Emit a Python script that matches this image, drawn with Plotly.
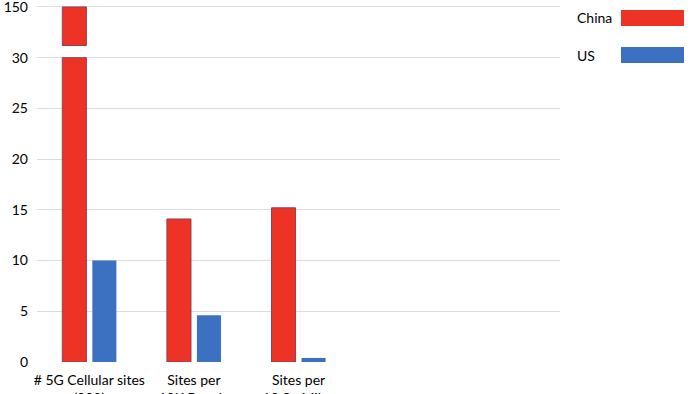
import plotly.graph_objects as go

# ---- data ----
categories = ["# 5G Cellular sites<br>(000)", "Sites per<br>10K People", "Sites per<br>10 Sq Miles"]
china = [150, 14.1, 15.2]
us = [10.0, 4.6, 0.4]
series_names = ["China", "US"]
tick_values = [0, 5, 10, 15, 20, 25, 30, 150]

# ---- broken axis helpers ----
BREAK_AT = 30          # axis linear up to here
TOP_DISPLAY = 35       # display position of the top tick (150)
UPPER_BASE = 31.2      # where the upper bar segment starts (display units)
RANGE_TOP = 35.59

def to_display(v):
    return v if v <= BREAK_AT else TOP_DISPLAY

RED = "#EC3326"
RED_EDGE = "#8E3E55"
BLUE = "#3B71C0"
FONT = "Lato, Open Sans, sans-serif"

x = list(range(len(categories)))
W = 0.23

fig = go.Figure()
fig.add_trace(go.Bar(x=x, y=[min(v, BREAK_AT) for v in china], width=W, offset=-0.258,
                     marker=dict(color=RED, line=dict(color=RED_EDGE, width=1)), name=series_names[0]))
upper = [to_display(v) - UPPER_BASE if v > BREAK_AT else None for v in china]
fig.add_trace(go.Bar(x=x, y=upper, base=UPPER_BASE, width=W, offset=-0.258,
                     marker=dict(color=RED, line=dict(color=RED_EDGE, width=1)), name=series_names[0]))
fig.add_trace(go.Bar(x=x, y=us, width=W, offset=0.029,
                     marker=dict(color=BLUE, line=dict(color=BLUE, width=0)), name=series_names[1]))

fig.update_layout(
    width=700, height=394,
    margin=dict(l=37, r=140, t=1, b=32, autoexpand=False),
    plot_bgcolor="white", paper_bgcolor="white",
    showlegend=False, barmode="overlay",
    font=dict(family=FONT, size=14, color="black"),
    xaxis=dict(range=[-0.5, 4.5], tickmode="array", tickvals=x, ticktext=categories,
               showgrid=False, zeroline=False, showline=False, ticks="", automargin=False,
               tickfont=dict(size=14), ticklabelstandoff=8, ticklabeloverflow="allow"),
    yaxis=dict(range=[0, RANGE_TOP], tickmode="array",
               tickvals=[to_display(v) for v in tick_values],
               ticktext=[str(v) for v in tick_values],
               showgrid=True, gridcolor="#DCDCDC", gridwidth=1, automargin=False,
               zeroline=False, showline=False, ticks="", ticklabelstandoff=8,
               ticklabeloverflow="allow", tickfont=dict(size=14)),
)

# custom legend (label left, swatch right)
def px_to_paper(px, py):
    return (px - 37) / 523, (362 - py) / 361

legend_colors = [RED, BLUE]
legend_y = [18, 55]
for name, col, ly in zip(series_names, legend_colors, legend_y):
    tx, ty = px_to_paper(575, ly)
    fig.add_annotation(x=tx, y=ty, xref="paper", yref="paper", text=name, showarrow=False,
                       xanchor="left", yanchor="middle", font=dict(size=14, family=FONT))
    x0, y0 = px_to_paper(621, ly + 8)
    x1, y1 = px_to_paper(684, ly - 8)
    fig.add_shape(type="rect", xref="paper", yref="paper", x0=x0, y0=y0, x1=x1, y1=y1,
                  fillcolor=col, line=dict(width=0))

fig.write_html("out.html", config={"displayModeBar": False},
               post_script="document.body.style.margin='0';document.body.style.overflow='hidden';")
